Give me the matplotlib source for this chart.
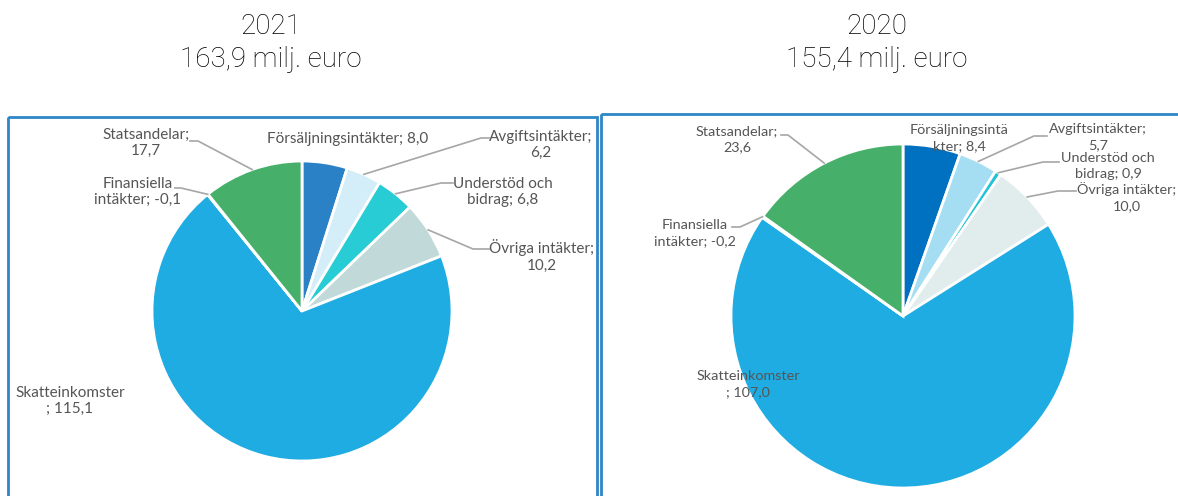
import numpy as np
import matplotlib
matplotlib.use("Agg")
import matplotlib.pyplot as plt
from matplotlib.patches import Rectangle

# Data
kategorier = ["Försäljningsintäkter", "Avgiftsintäkter", "Understöd och bidrag",
              "Övriga intäkter", "Skatteinkomster", "Finansiella intäkter", "Statsandelar"]
varden_2021 = [8.0, 6.2, 6.8, 10.2, 115.1, -0.1, 17.7]
varden_2020 = [8.4, 5.7, 0.9, 10.0, 107.0, -0.2, 23.6]
rubriker = ["2021\n163,9 milj. euro", "2020\n155,4 milj. euro"]

# etiketter (radbrytning som i originalet)
etiketter_2021 = ["Försäljningsintäkter; {}", "Avgiftsintäkter;\n{}", "Understöd och\nbidrag; {}",
                  "Övriga intäkter;\n{}", "Skatteinkomster\n; {}", "Finansiella\nintäkter; {}",
                  "Statsandelar;\n{}"]
etiketter_2020 = ["Försäljningsintä\nkter; {}", "Avgiftsintäkter;\n{}", "Understöd och\nbidrag; {}",
                  "Övriga intäkter;\n{}", "Skatteinkomster\n; {}", "Finansiella\nintäkter; {}",
                  "Statsandelar;\n{}"]

farger_2021 = ["#2A81C5", "#D3EEF8", "#28CCD5", "#C1DAD9", "#1EACE2", "#7F7F7F", "#46B06A"]
farger_2020 = ["#0070C0", "#A5DEF3", "#22C3D4", "#E1EDED", "#1EACE2", "#7F7F7F", "#46B06A"]

TEXTFARG = "#555555"
LINJEFARG = "#A6A6A6"

fig = plt.figure(figsize=(11.78, 4.96), dpi=100)
ax = fig.add_axes([0, 0, 1, 1])

# layout: (text x, text y, fäste vid texten (x, x_knä, y) eller None)
layout_2021 = [
    (348, 139, None),
    (541, 145, (489, 481, 138)),
    (503, 192, (453, 441, 183)),
    (542, 256, (489, 473, 249)),
    (70, 401, None),
    (138, 192, (175, 181, 188)),
    (146, 143, (190, 198, 141)),
]
layout_2020 = [
    (959, 138, None),
    (1098, 137, (1047, 1034, 136)),
    (1108, 166, (1059, 1043, 162)),
    (1127, 197, (1076, 1058, 191)),
    (748, 384, None),
    (695, 233, (732, 740, 227)),
    (737, 139, (781, 788, 135)),
]

def rita_paj(varden, farger, etiketter, layout, centrum, radie, storlek_text, radavstand):
    storlek = np.abs(varden)
    # y-axeln är inverterad (pixelkoordinater), därför startvinkel -90 och moturs i data
    wedges, _ = ax.pie(storlek, colors=farger, startangle=-90, counterclock=True,
                       center=centrum, radius=radie,
                       wedgeprops=dict(edgecolor="white", linewidth=2))
    for w, v, et, (tx, ty, fast) in zip(wedges, varden, etiketter, layout):
        text = et.format(f"{v:.1f}".replace(".", ","))
        ax.text(tx, ty, text, ha="center", va="center", color=TEXTFARG, fontsize=storlek_text,
                family="Lato", linespacing=radavstand, zorder=5)
        if fast is not None:
            vinkel = np.deg2rad((w.theta1 + w.theta2) / 2)
            ex = centrum[0] + radie * np.cos(vinkel)
            ey = centrum[1] + radie * np.sin(vinkel)
            ax.plot([fast[0], fast[1], ex], [fast[2], fast[2], ey],
                    color=LINJEFARG, linewidth=1.2, zorder=4)

rita_paj(varden_2021, farger_2021, etiketter_2021, layout_2021, (302, 311), 150, 11, 1.25)
rita_paj(varden_2020, farger_2020, etiketter_2020, layout_2020, (903, 316), 172, 10.4, 1.38)

ax.set_xlim(0, 1178)
ax.set_ylim(496, 0)
ax.set_aspect("equal")
ax.axis("off")

ax.add_patch(Rectangle((8, 117), 589, 400, fill=False, edgecolor="#2E86C8", linewidth=2))
ax.add_patch(Rectangle((601, 114), 600, 400, fill=False, edgecolor="#2E86C8", linewidth=2))

ax.text(271, 43, rubriker[0], ha="center", va="center", fontsize=20, family="Roboto",
        fontweight="light", color="black", linespacing=1.25)
ax.text(877, 43, rubriker[1], ha="center", va="center", fontsize=20, family="Roboto",
        fontweight="light", color="black", linespacing=1.25)

fig.savefig("out.png", dpi=100)
